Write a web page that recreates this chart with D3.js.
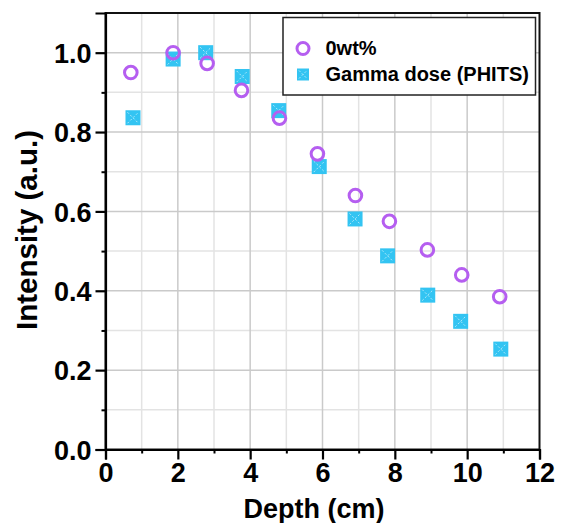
<!DOCTYPE html>
<html><head><meta charset="utf-8">
<script src="https://cdn.jsdelivr.net/npm/d3@7"></script>
<style>
html,body{margin:0;padding:0;background:#fff;}
text{font-family:"Liberation Sans",Arial,Helvetica,sans-serif;font-weight:bold;fill:#000;}
</style></head>
<body><svg id="c" width="565" height="523"></svg>
<script>
const depth0 = [0.70,1.87,2.81,3.76,4.81,5.86,6.91,7.85,8.90,9.85,10.90];
const wt0 = [0.950,1.000,0.973,0.905,0.835,0.745,0.640,0.575,0.503,0.440,0.385];
const depthG = [0.76,1.87,2.77,3.78,4.79,5.91,6.90,7.80,8.91,9.82,10.93];
const gamma = [0.836,0.984,1.000,0.940,0.854,0.713,0.581,0.488,0.389,0.323,0.253];
const xTicks = [0,2,4,6,8,10,12];
const yTicks = [0.0,0.2,0.4,0.6,0.8,1.0];
const xMinor = [1,3,5,7,9,11];
const yMinor = [0.1,0.3,0.5,0.7,0.9];
const seriesNames = ["0wt%","Gamma dose (PHITS)"];

const svg = d3.select("#c");
const L=105.5, R=539.5, T=13, B=449.5;
const x = d3.scaleLinear().domain([0,12]).range([L,R]);
const y = d3.scaleLinear().domain([0,1.1]).range([B,T]);
const purple="#b55ef0", cyan="#33c4f2";

// grid
const g = svg.append("g");
g.selectAll(".gxm").data(xMinor).join("line").attr("x1",d=>x(d)).attr("x2",d=>x(d)).attr("y1",T).attr("y2",B).attr("stroke","#e3e3e3").attr("stroke-width",1.5);
g.selectAll(".gym").data(yMinor).join("line").attr("y1",d=>y(d)).attr("y2",d=>y(d)).attr("x1",L).attr("x2",R).attr("stroke","#e3e3e3").attr("stroke-width",1.5);
g.selectAll(".gx").data(xTicks.slice(1,-1)).join("line").attr("x1",d=>x(d)).attr("x2",d=>x(d)).attr("y1",T).attr("y2",B).attr("stroke","#cacaca").attr("stroke-width",1.5);
g.selectAll(".gy").data(yTicks.slice(1)).join("line").attr("y1",d=>y(d)).attr("y2",d=>y(d)).attr("x1",L).attr("x2",R).attr("stroke","#cacaca").attr("stroke-width",1.5);

// frame
svg.append("rect").attr("x",L).attr("y",T).attr("width",R-L).attr("height",B-T).attr("fill","none").attr("stroke","#111").attr("stroke-width",2);

// axes
const xAx = d3.axisBottom(x).tickValues(xTicks).tickSize(10).tickPadding(6).tickFormat(d3.format("d"));
const gx = svg.append("g").attr("transform",`translate(0,${B})`).call(xAx);
gx.select(".domain").attr("stroke","#000").attr("stroke-width",2.2);
gx.selectAll(".tick line").attr("stroke","#000").attr("stroke-width",2.2);
gx.selectAll("text").attr("font-size",27).attr("font-family","Liberation Sans, Arial, sans-serif").attr("font-weight","bold").attr("fill","#000").attr("dy","0.72em").attr("y",13);
svg.append("g").attr("transform",`translate(0,${B})`).call(d3.axisBottom(x).tickValues(xMinor).tickSize(4).tickFormat(""))
  .call(s=>{s.select(".domain").remove();s.selectAll("line").attr("stroke","#000").attr("stroke-width",2);});

const yAx = d3.axisLeft(y).tickValues(yTicks).tickSize(10).tickPadding(4).tickFormat(d3.format(".1f"));
const gy = svg.append("g").attr("transform",`translate(${L},0)`).call(yAx);
gy.select(".domain").attr("stroke","#000").attr("stroke-width",2.2);
gy.selectAll(".tick line").attr("stroke","#000").attr("stroke-width",2.2);
gy.selectAll("text").attr("font-size",27).attr("font-family","Liberation Sans, Arial, sans-serif").attr("font-weight","bold").attr("fill","#000").attr("dy","0.36em");
svg.append("g").attr("transform",`translate(${L},0)`).call(d3.axisLeft(y).tickValues(yMinor).tickSize(4).tickFormat(""))
  .call(s=>{s.select(".domain").remove();s.selectAll("line").attr("stroke","#000").attr("stroke-width",2);});

// labels
svg.append("text").attr("x",314).attr("y",517.5).attr("text-anchor","middle").attr("font-size",27).text("Depth (cm)");
svg.append("text").attr("transform","translate(37,230) rotate(-90)").attr("text-anchor","middle").attr("font-size",29.5).text("Intensity (a.u.)");

// square marker
function sq(sel,cx,cy,s){
  const gg = sel.append("g").attr("transform",`translate(${cx},${cy})`);
  gg.append("rect").attr("x",-s/2).attr("y",-s/2).attr("width",s).attr("height",s).attr("fill",cyan);
  const h=s/2-2;
  gg.append("line").attr("x1",-h).attr("y1",-h).attr("x2",h).attr("y2",h).attr("stroke","#fff").attr("stroke-opacity",0.6).attr("stroke-width",1).attr("stroke-dasharray","2,2");
  gg.append("line").attr("x1",-h).attr("y1",h).attr("x2",h).attr("y2",-h).attr("stroke","#fff").attr("stroke-opacity",0.6).attr("stroke-width",1).attr("stroke-dasharray","2,2");
}
const pts = svg.append("g");
depthG.forEach((d,i)=>sq(pts,x(d),y(gamma[i]),15));
pts.selectAll("circle").data(depth0).join("circle").attr("cx",d=>x(d)).attr("cy",(d,i)=>y(wt0[i])).attr("r",6.3).attr("fill","none").attr("stroke",purple).attr("stroke-width",3);

// legend
const lg = svg.append("g");
lg.append("rect").attr("x",283).attr("y",17.5).attr("width",252.5).attr("height",77.5).attr("fill","#fff").attr("stroke","#222").attr("stroke-width",1.5);
lg.append("circle").attr("cx",303).attr("cy",48.5).attr("r",6).attr("fill","none").attr("stroke",purple).attr("stroke-width",3);
sq(lg,303,74.5,12);
lg.append("text").attr("x",325.5).attr("y",54.5).attr("font-size",20).text(seriesNames[0]);
lg.append("text").attr("x",325.5).attr("y",81).attr("font-size",20).text(seriesNames[1]);
</script></body></html>
